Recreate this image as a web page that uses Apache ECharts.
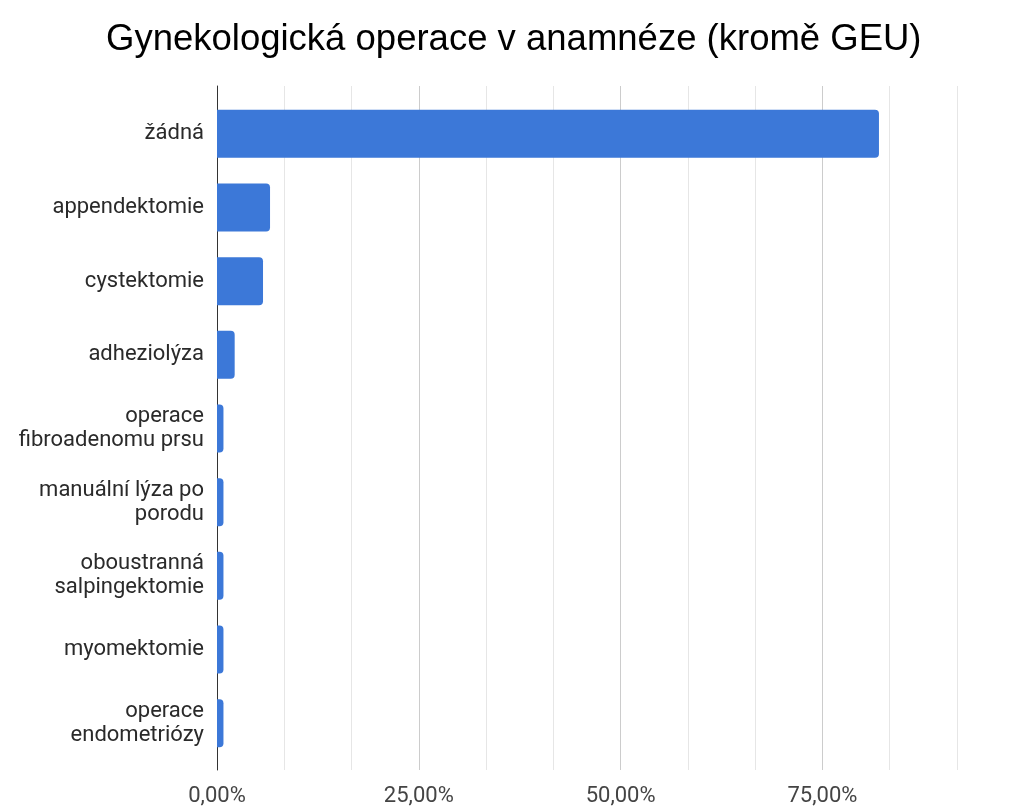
<!DOCTYPE html>
<html>
<head>
<meta charset="utf-8">
<title>Gynekologická operace v anamnéze</title>
<script src="https://cdn.jsdelivr.net/npm/echarts@6/dist/echarts.min.js"></script>
<style>
  html, body { margin: 0; padding: 0; background: #fff; }
  #chart { width: 1016px; height: 807px; }
</style>
</head>
<body>
<div id="chart"></div>
<script>
// Data (share of respondents)
const categories = [
  'žádná',
  'appendektomie',
  'cystektomie',
  'adheziolýza',
  'operace\nfibroadenomu prsu',
  'manuální lýza po\nporodu',
  'oboustranná\nsalpingektomie',
  'myomektomie',
  'operace\nendometriózy'
];
const shares = [0.820, 0.0657, 0.0570, 0.0219, 0.0080, 0.0080, 0.0080, 0.0080, 0.0080];

// Axis: gridlines every 1/12, labels only every 25 %
const axisMax = 11 / 12;
const axisStep = 1 / 12;

function fmtPercent(v) {
  const q = v * 4;
  if (Math.abs(q - Math.round(q)) > 1e-6) return '';
  return (v * 100).toFixed(2).replace('.', ',') + '%';
}

const chart = echarts.init(document.getElementById('chart'));

const option = {
  backgroundColor: '#ffffff',
  animation: false,
  title: {
    text: 'Gynekologická operace v anamnéze (kromě GEU)',
    left: 101,
    top: 16,
    textStyle: {
      fontFamily: 'Liberation Sans, Arial, sans-serif',
      fontSize: 36.5,
      fontWeight: 'normal',
      color: '#000'
    }
  },
  grid: [
    // bars
    { left: 217, right: 59, top: 97, bottom: 47 },
    // gridlines + axis line (slightly taller, like the original)
    { left: 217, right: 59, top: 86, bottom: 34 }
  ],
  xAxis: [
    { gridIndex: 0, type: 'value', min: 0, max: axisMax, show: false },
    {
      gridIndex: 1,
      type: 'value',
      min: 0,
      max: axisMax,
      interval: axisStep,
      axisLine: { show: false },
      axisTick: { show: false },
      axisLabel: {
        formatter: fmtPercent,
        fontFamily: 'Roboto, sans-serif',
        fontSize: 22,
        color: '#444',
        margin: 15
      },
      splitLine: {
        show: true,
        lineStyle: { color: ['#cccccc', '#e6e6e6', '#e6e6e6'], width: 1 }
      }
    }
  ],
  yAxis: [
    {
      gridIndex: 0,
      type: 'category',
      inverse: true,
      data: categories,
      axisLine: { show: false },
      axisTick: { show: false },
      splitLine: { show: false },
      axisLabel: {
        fontFamily: 'Roboto, sans-serif',
        fontSize: 22,
        lineHeight: 24,
        color: '#2a2a2a',
        margin: 13,
        align: 'right',
        padding: [4, 0, 0, 0]
      }
    },
    {
      gridIndex: 1,
      type: 'value',
      min: 0,
      max: 1,
      axisLine: { show: true, lineStyle: { color: '#333', width: 1 } },
      axisTick: { show: false },
      axisLabel: { show: false },
      splitLine: { show: false }
    }
  ],
  series: [{
    type: 'bar',
    xAxisIndex: 0,
    yAxisIndex: 0,
    data: shares,
    barWidth: 48,
    itemStyle: { color: '#3c78d8', borderRadius: [0, 4, 4, 0] },
    z: 3
  }]
};

chart.setOption(option);
</script>
</body>
</html>
